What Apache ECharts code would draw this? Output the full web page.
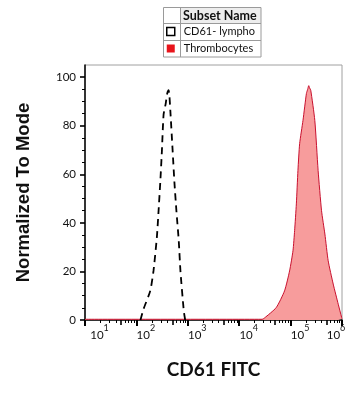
<!DOCTYPE html>
<html><head><meta charset="utf-8">
<script src="https://cdn.jsdelivr.net/npm/echarts@6/dist/echarts.min.js"></script>
<style>html,body{margin:0;padding:0;background:#fff}#c{width:356px;height:400px}</style>
</head><body><div id="c"></div>
<script>
// CD61- lympho (dashed black), x = CD61 FITC intensity, y = % of mode
const lymphoX = [120, 137, 186, 215, 250, 270, 292, 313, 338, 371, 395, 424, 440, 458, 508, 548, 600, 667, 719, 836, 890];
const lymphoY = [0, 4.4, 12, 20.2, 34, 45, 57, 69.4, 84.6, 89, 93, 94.6, 92, 86, 69.4, 57, 45, 32.6, 20.2, 3.7, 0];
// Thrombocytes (red filled)
const thrX = [10, 28000, 30900, 52400, 76200, 95500, 111200, 119700, 129400, 139000, 150000, 174200, 203200, 215000, 225400, 235000, 246600, 295800, 342800, 399900, 464500, 538300, 674500, 845300, 986000, 1000000];
const thrY = [0.3, 0.3, 0.8, 5.1, 12, 20.2, 28.5, 36.8, 47.8, 61.6, 72.6, 82.2, 93.3, 95, 96.5, 95.5, 94.6, 82.2, 61.6, 45, 35.4, 24.4, 14.8, 6.5, 1, 0.5];
const xMajor = [10, 100, 1000, 10000, 100000, 1000000];
const xMajorExp = ['1', '2', '3', '4', '5', '6'];
const xMid = [50, 500, 5000, 50000, 500000];
const xMinor = [20,30,40,60,70,80,90,200,300,400,600,700,800,900,2000,3000,4000,6000,7000,8000,9000,20000,30000,40000,60000,70000,80000,90000,200000,300000,400000,600000,700000,800000,900000];
const yMajor = [0, 20, 40, 60, 80, 100];
const yMinor = [5,10,15,25,30,35,45,50,55,65,70,75,85,90,95];
const seriesNames = ['CD61- lympho', 'Thrombocytes'];
const legendTitle = 'Subset Name';
const xTitle = 'CD61 FITC';
const yTitle = 'Normalized To Mode';

const zip = (a, b) => a.map((v, i) => [v, b[i]]);
const chart = echarts.init(document.getElementById('c'), null, {renderer: 'canvas'});
const F = 'Lato';
const baseX = {type: 'log', logBase: 10, min: 10, max: 1000000, gridIndex: 0, position: 'bottom', offset: 0, splitLine: {show: false}, axisLine: {show: false}, axisLabel: {show: false}};
const baseY = {type: 'value', min: 0, max: 105, gridIndex: 0, position: 'left', offset: 0, splitLine: {show: false}, axisLine: {show: false}, axisLabel: {show: false}};
chart.setOption({
  animation: false,
  grid: {left: 85, right: 14, top: 65, bottom: 80, show: true, borderColor: '#a0a0a0', borderWidth: 1},
  xAxis: [
    Object.assign({}, baseX, {
      axisLine: {show: true, lineStyle: {color: '#000', width: 1.5}},
      axisTick: {show: true, customValues: xMajor, length: 6, lineStyle: {color: '#000', width: 2}},
      axisLabel: {show: true, customValues: xMajor, margin: 9,
        formatter: function (v) {
          const i = xMajor.indexOf(v);
          const e = xMajorExp[i];
          if (i === 0) return '{p2| }{b|10}{s|' + e + '}';
          if (i === xMajor.length - 1) return '{b|10}{s|' + e + '}{p3| }';
          return '{p| }{b|10}{s|' + e + '}';
        },
        rich: {
          b: {fontFamily: F, fontSize: 11.5, color: '#111', lineHeight: 12, verticalAlign: 'bottom'},
          s: {fontFamily: F, fontSize: 9, color: '#111', lineHeight: 10, verticalAlign: 'bottom', padding: [0, 0, 8, 0]},
          p: {width: 19, fontSize: 1, verticalAlign: 'bottom'},
          p2: {width: 29, fontSize: 1, verticalAlign: 'bottom'},
          p3: {width: 12, fontSize: 1, verticalAlign: 'bottom'}
        }},
      name: xTitle, nameLocation: 'middle', nameGap: 40,
      nameTextStyle: {fontFamily: F, fontWeight: 'bold', fontSize: 19, color: '#111'}
    }),
    Object.assign({}, baseX, {axisTick: {show: true, customValues: xMid, length: 5, lineStyle: {color: '#000', width: 1.6}}}),
    Object.assign({}, baseX, {axisTick: {show: true, customValues: xMinor, length: 3, lineStyle: {color: '#000', width: 1}}})
  ],
  yAxis: [
    Object.assign({}, baseY, {
      axisLine: {show: true, lineStyle: {color: '#000', width: 1.5}},
      axisTick: {show: true, customValues: yMajor, length: 5, lineStyle: {color: '#000', width: 1.6}},
      axisLabel: {show: true, customValues: yMajor, margin: 9, fontFamily: F, fontSize: 11.5, color: '#111'},
      name: yTitle, nameLocation: 'middle', nameGap: 52,
      nameTextStyle: {fontFamily: 'Liberation Sans', fontWeight: 'bold', fontSize: 18.5, color: '#111'}
    }),
    Object.assign({}, baseY, {axisTick: {show: true, customValues: yMinor, length: 3, lineStyle: {color: '#000', width: 1}}})
  ],
  legend: {
    orient: 'vertical', left: 166, top: 23, padding: 0, itemGap: 0, itemWidth: 8, itemHeight: 8,
    selectedMode: false,
    textStyle: {fontFamily: F, fontSize: 11, color: '#111', lineHeight: 17, padding: [0, 0, 0, 4]},
    data: [
      {name: seriesNames[0], icon: 'rect', itemStyle: {color: '#fff', borderColor: '#000', borderWidth: 1.5}},
      {name: seriesNames[1], icon: 'rect', itemStyle: {color: '#e8141b', borderWidth: 0}}
    ]
  },
  graphic: [
    {type: 'rect', shape: {x: 180, y: 7, width: 81, height: 16}, style: {fill: '#ededed'}, z: 0},
    {type: 'rect', shape: {x: 163.5, y: 7.5, width: 97.5, height: 49.5}, style: {fill: 'none', stroke: '#9a9a9a', lineWidth: 1}, z: 1},
    {type: 'line', shape: {x1: 180.5, y1: 7.5, x2: 180.5, y2: 57}, style: {stroke: '#9a9a9a', lineWidth: 1}, z: 1},
    {type: 'line', shape: {x1: 163.5, y1: 23.5, x2: 261, y2: 23.5}, style: {stroke: '#9a9a9a', lineWidth: 1}, z: 1},
    {type: 'line', shape: {x1: 163.5, y1: 40.5, x2: 261, y2: 40.5}, style: {stroke: '#9a9a9a', lineWidth: 1}, z: 1},
    {type: 'text', x: 183, y: 15.5, style: {text: legendTitle, fontFamily: F, fontWeight: 'bold', fontSize: 12.5, fill: '#111', verticalAlign: 'middle'}, z: 2}
  ],
  series: [
    {name: seriesNames[0], type: 'line', xAxisIndex: 0, yAxisIndex: 0, data: zip(lymphoX, lymphoY), showSymbol: false, smooth: 0.2,
      lineStyle: {color: '#000', width: 1.8, type: [7, 5]}, itemStyle: {color: '#000'}, z: 3},
    {name: seriesNames[1], type: 'line', xAxisIndex: 0, yAxisIndex: 0, data: zip(thrX, thrY), showSymbol: false, smooth: 0.2,
      lineStyle: {color: '#c8102e', width: 1}, areaStyle: {color: '#f79c9c', opacity: 1}, itemStyle: {color: '#e8141b'}, z: 2}
  ]
});
</script></body></html>
